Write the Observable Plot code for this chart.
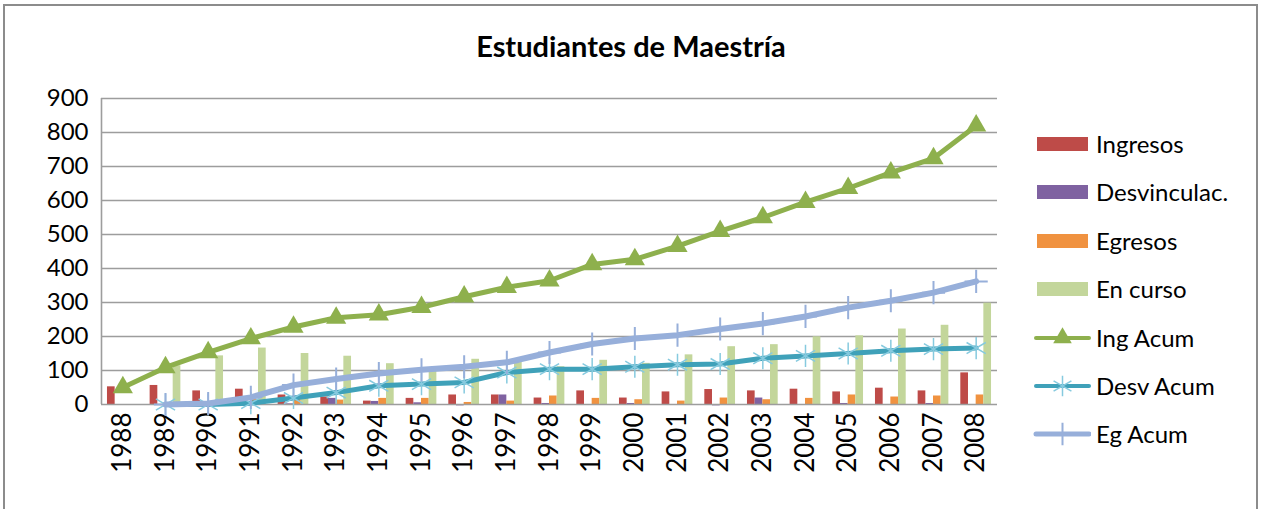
<!DOCTYPE html>
<html><head><meta charset="utf-8">
<script src="https://cdn.jsdelivr.net/npm/d3@7"></script>
<script src="https://cdn.jsdelivr.net/npm/@observablehq/plot@0.6"></script>
<style>
body{margin:0;background:#fff;font-family:Lato,"Open Sans",sans-serif;}
#wrap{position:relative;width:1264px;height:509px;overflow:hidden;}
#border{position:absolute;left:3px;top:4px;width:1255px;height:540px;border:2px solid #8c8c8c;box-sizing:border-box;pointer-events:none;}
#title{height:80px;line-height:1;padding-top:31px;box-sizing:border-box;text-align:center;font-weight:bold;font-size:29px;color:#000;width:1262px;}
#legend{position:absolute;left:1033px;top:0;}
.item{position:absolute;left:0;display:flex;align-items:center;font-size:24px;color:#000;white-space:nowrap;}
.item svg{margin-right:5px;}
#chart svg g[aria-label="x-axis tick label"] text{font-size:26px;}
#chart svg g[aria-label="y-axis tick label"] text{font-size:24px;}
</style></head>
<body>
<div id="wrap">
  <div id="title">Estudiantes de Maestría</div>
  <div id="chart"></div>
  <div id="legend"></div>
  <div id="border"></div>
</div>
<script>
const years       = [1988,1989,1990,1991,1992,1993,1994,1995,1996,1997,1998,1999,2000,2001,2002,2003,2004,2005,2006,2007,2008];
const ingresos    = [52,56,40,45,28,22,10,18,28,28,19,40,19,37,44,40,45,37,48,40,93];
const desvinculac = [0,0,0,0,2,18,9,5,-4,28,3,0,3,0,-4,19,0,3,0,3,-3];
const egresos     = [0,0,3,15,16,13,18,18,6,10,25,18,14,10,19,14,18,28,22,25,28];
const enCurso     = [null,114,143,166,150,142,120,102,133,124,111,130,121,146,170,176,199,202,222,233,298];
const ingAcum     = [50,109,153,194,228,255,264,286,317,345,364,412,427,466,510,550,595,636,682,724,820];
const desvAcum    = [null,0,0,4,19,35,55,60,65,94,104,104,111,117,119,136,143,150,158,163,166];
const egAcum      = [null,0,3,21,57,75,91,102,111,124,153,178,194,204,222,238,259,285,305,329,362];
const yTicks      = [0,100,200,300,400,500,600,700,800,900];

const barSeries = [
  {name:"Ingresos",     values:ingresos,    color:"#BE4B48"},
  {name:"Desvinculac.", values:desvinculac, color:"#7F62A1"},
  {name:"Egresos",      values:egresos,     color:"#F09240"},
  {name:"En curso",     values:enCurso,     color:"#C3D69B"}
];
const lineSeries = [
  {name:"Ing Acum",  values:ingAcum,  color:"#8EB04D", width:5, symbol:"triangle", r:7.5, mfill:"#8EB04D", mstroke:"none", mw:0},
  {name:"Desv Acum", values:desvAcum, color:"#3FA1B9", width:5, symbol:"asterisk", r:10.5, mfill:"none", mstroke:"#86CADF", mw:1.5},
  {name:"Eg Acum",   values:egAcum,   color:"#97AFDA", width:6, symbol:"plus",     r:7.5, mfill:"none", mstroke:"#97AFDA", mw:2}
];

const groupW = 0.72, barW = groupW/4;
const marks = [
  Plot.ruleY(yTicks.filter(v => v > 0), {stroke:"#9d9d9d", strokeWidth:1.6})
];
barSeries.forEach((s, k) => {
  const rows = years.map((yr, i) => ({year: yr, v: s.values[i]})).filter(d => d.v != null && d.v !== 0);
  marks.push(Plot.rectY(rows, {
    x1: d => d.year - groupW/2 + k*barW,
    x2: d => d.year - groupW/2 + (k+1)*barW,
    y1: 0, y2: "v", fill: s.color
  }));
});
marks.push(Plot.ruleX([1987.5], {stroke:"#9d9d9d", strokeWidth:1.6}));
marks.push(Plot.ruleY([0], {stroke:"#9d9d9d", strokeWidth:1.6}));
lineSeries.forEach(s => {
  const rows = years.map((yr, i) => ({year: yr, v: s.values[i]})).filter(d => d.v != null);
  marks.push(Plot.line(rows, {x:"year", y:"v", stroke:s.color, strokeWidth:s.width, strokeLinejoin:"round", strokeLinecap:"round"}));
  marks.push(Plot.dot(rows, {x:"year", y:"v", symbol:s.symbol, r:s.r, fill:s.mfill, stroke:s.mstroke, strokeWidth:s.mw}));
});

const chart = Plot.plot({
  width: 1264, height: 429,
  marginLeft: 101, marginRight: 267, marginTop: 18, marginBottom: 105,
  style: {fontFamily: "Lato, 'Open Sans', sans-serif", fontSize: "24px", color: "#000", background: "transparent", overflow: "visible"},
  x: {type:"linear", domain: [1987.5, 2008.5], ticks: years, tickFormat: d => String(d), tickRotate: -90, tickSize: 0, tickPadding: 8, label: null},
  y: {domain: [0, 900], ticks: yTicks, tickSize: 0, tickPadding: 13, label: null},
  marks
});
document.getElementById("chart").appendChild(chart);

// legend
const legend = document.getElementById("legend");
const ys = [144, 192, 241, 289, 338, 386, 434];
const symPath = {
  triangle: d3.symbol(d3.symbolTriangle, 150)(),
  asterisk: d3.symbol(d3.symbolAsterisk, 300)(),
  plus: d3.symbol(d3.symbolPlus, 170)()
};
const items = barSeries.map(s => ({name:s.name, kind:"bar", s})).concat(lineSeries.map(s => ({name:s.name, kind:"line", s})));
items.forEach((it, i) => {
  const div = document.createElement("div");
  div.className = "item";
  div.style.top = (ys[i] - 15) + "px";
  const ns = "http://www.w3.org/2000/svg";
  const svg = document.createElementNS(ns, "svg");
  svg.setAttribute("width", 58); svg.setAttribute("height", 28);
  if (it.kind === "bar") {
    const r = document.createElementNS(ns, "rect");
    r.setAttribute("x", 4); r.setAttribute("y", 7); r.setAttribute("width", 51); r.setAttribute("height", 14);
    r.setAttribute("fill", it.s.color);
    svg.appendChild(r);
  } else {
    const l = document.createElementNS(ns, "line");
    l.setAttribute("x1", 3); l.setAttribute("x2", 56); l.setAttribute("y1", 14); l.setAttribute("y2", 14);
    l.setAttribute("stroke", it.s.color); l.setAttribute("stroke-width", it.s.width - 1); l.setAttribute("stroke-linecap", "round");
    svg.appendChild(l);
    const p = document.createElementNS(ns, "path");
    p.setAttribute("d", symPath[it.s.symbol]);
    p.setAttribute("transform", "translate(29.5,14)");
    p.setAttribute("fill", it.s.mfill); p.setAttribute("stroke", it.s.mstroke); p.setAttribute("stroke-width", it.s.mw);
    svg.appendChild(p);
  }
  div.appendChild(svg);
  const t = document.createElement("span");
  t.textContent = it.name;
  div.appendChild(t);
  legend.appendChild(div);
});
</script>
</body></html>
